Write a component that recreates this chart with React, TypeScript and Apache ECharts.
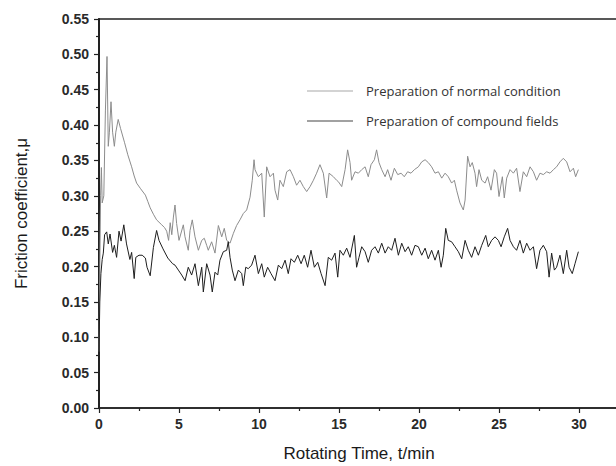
import React, { useEffect, useRef } from "react";
import * as echarts from "echarts";

// Preparation of normal condition: [time (min), friction coefficient]
const normalCondition: [number, number][] = [
  [0, 0.08], [0.05, 0.2], [0.1, 0.3], [0.15, 0.34], [0.2, 0.29], [0.3, 0.3], [0.4, 0.42], [0.5, 0.497],
  [0.58, 0.37], [0.65, 0.39], [0.75, 0.433], [0.85, 0.39], [0.96, 0.37], [1.05, 0.39], [1.2, 0.408],
  [1.35, 0.395], [1.6, 0.375], [1.8, 0.358], [2.04, 0.341], [2.2, 0.328], [2.35, 0.318], [2.6, 0.31],
  [2.9, 0.301], [3.05, 0.292], [3.2, 0.283], [3.4, 0.274], [3.6, 0.266], [3.92, 0.259], [4.1, 0.255],
  [4.23, 0.25], [4.35, 0.237], [4.45, 0.262], [4.55, 0.245], [4.65, 0.27], [4.75, 0.287], [4.85, 0.261],
  [5.0, 0.237], [5.27, 0.259], [5.375, 0.242], [5.58, 0.223], [5.69, 0.251], [5.83, 0.266], [6.0, 0.242],
  [6.21, 0.223], [6.42, 0.237], [6.58, 0.24], [6.73, 0.23], [6.83, 0.223], [7.04, 0.235], [7.25, 0.219],
  [7.46, 0.258], [7.67, 0.242], [7.83, 0.254], [7.98, 0.237], [8.19, 0.233], [8.4, 0.247], [8.6, 0.258],
  [8.81, 0.266], [9.02, 0.275], [9.23, 0.28], [9.44, 0.298], [9.58, 0.322], [9.69, 0.351], [9.75, 0.337],
  [9.85, 0.332], [9.96, 0.327], [10.17, 0.332], [10.33, 0.27], [10.48, 0.341], [10.69, 0.327], [10.9, 0.332],
  [11.0, 0.308], [11.17, 0.294], [11.31, 0.322], [11.52, 0.313], [11.73, 0.334], [11.94, 0.337], [12.15, 0.327],
  [12.35, 0.315], [12.56, 0.322], [12.77, 0.313], [12.98, 0.306], [13.19, 0.313], [13.4, 0.322], [13.6, 0.332],
  [13.81, 0.344], [14.02, 0.332], [14.23, 0.297], [14.38, 0.332], [14.65, 0.327], [14.85, 0.322], [14.96, 0.32],
  [15.17, 0.313], [15.38, 0.337], [15.54, 0.365], [15.69, 0.347], [15.79, 0.322], [16.0, 0.334], [16.21, 0.332],
  [16.42, 0.337], [16.63, 0.341], [16.83, 0.327], [17.0, 0.344], [17.21, 0.351], [17.35, 0.365], [17.5, 0.347],
  [17.67, 0.337], [17.88, 0.327], [18.04, 0.337], [18.25, 0.322], [18.46, 0.339], [18.67, 0.33], [18.88, 0.332],
  [19.08, 0.327], [19.29, 0.334], [19.5, 0.332], [19.71, 0.337], [19.96, 0.341], [20.17, 0.348], [20.38, 0.351],
  [20.58, 0.347], [20.79, 0.341], [21.0, 0.332], [21.21, 0.334], [21.42, 0.325], [21.63, 0.332], [21.83, 0.327],
  [22.04, 0.318], [22.21, 0.322], [22.35, 0.308], [22.56, 0.29], [22.77, 0.28], [22.88, 0.294], [23.04, 0.356],
  [23.19, 0.341], [23.33, 0.347], [23.5, 0.332], [23.6, 0.313], [23.75, 0.337], [23.92, 0.322], [24.13, 0.318],
  [24.29, 0.327], [24.5, 0.308], [24.71, 0.337], [24.85, 0.332], [25.0, 0.299], [25.21, 0.327], [25.33, 0.297],
  [25.48, 0.325], [25.69, 0.337], [25.9, 0.332], [26.1, 0.339], [26.31, 0.306], [26.52, 0.334], [26.73, 0.327],
  [26.94, 0.341], [27.15, 0.334], [27.35, 0.322], [27.56, 0.332], [27.77, 0.33], [27.98, 0.334], [28.19, 0.332],
  [28.4, 0.337], [28.6, 0.341], [28.81, 0.348], [29.02, 0.353], [29.23, 0.348], [29.44, 0.334], [29.65, 0.339],
  [29.79, 0.327], [29.96, 0.337],
];

// Preparation of compound fields: [time (min), friction coefficient]
const compoundFields: [number, number][] = [
  [0, 0.08], [0.05, 0.15], [0.12, 0.19], [0.2, 0.21], [0.27, 0.219], [0.35, 0.245], [0.48, 0.249], [0.58, 0.232],
  [0.69, 0.246], [0.85, 0.22], [0.96, 0.23], [1.1, 0.213], [1.25, 0.25], [1.38, 0.236], [1.55, 0.259],
  [1.72, 0.232], [1.93, 0.21], [2.04, 0.22], [2.2, 0.183], [2.3, 0.213], [2.5, 0.216], [2.7, 0.216],
  [2.9, 0.212], [3.0, 0.199], [3.2, 0.187], [3.4, 0.227], [3.6, 0.251], [3.75, 0.237], [4.0, 0.225],
  [4.3, 0.212], [4.6, 0.204], [4.75, 0.202], [4.96, 0.195], [5.17, 0.188], [5.38, 0.18], [5.58, 0.199],
  [5.79, 0.188], [6.0, 0.204], [6.21, 0.173], [6.42, 0.199], [6.52, 0.164], [6.73, 0.204], [6.94, 0.188],
  [7.08, 0.164], [7.25, 0.192], [7.42, 0.188], [7.56, 0.209], [7.77, 0.221], [7.98, 0.223], [8.08, 0.235],
  [8.19, 0.213], [8.33, 0.195], [8.5, 0.18], [8.71, 0.195], [8.92, 0.19], [9.02, 0.173], [9.17, 0.199],
  [9.33, 0.197], [9.54, 0.202], [9.75, 0.216], [9.96, 0.19], [10.17, 0.204], [10.33, 0.185], [10.54, 0.199],
  [10.75, 0.19], [11.0, 0.18], [11.21, 0.202], [11.42, 0.197], [11.63, 0.209], [11.83, 0.19], [12.0, 0.211],
  [12.21, 0.206], [12.42, 0.216], [12.63, 0.204], [12.83, 0.216], [13.04, 0.199], [13.25, 0.223], [13.46, 0.199],
  [13.67, 0.206], [13.88, 0.19], [14.13, 0.173], [14.33, 0.213], [14.54, 0.209], [14.75, 0.219], [14.92, 0.185],
  [15.06, 0.223], [15.27, 0.216], [15.48, 0.226], [15.69, 0.213], [15.96, 0.244], [16.1, 0.199], [16.25, 0.213],
  [16.42, 0.228], [16.63, 0.221], [16.83, 0.206], [17.04, 0.223], [17.25, 0.228], [17.46, 0.219], [17.67, 0.233],
  [17.88, 0.219], [18.08, 0.228], [18.29, 0.223], [18.5, 0.24], [18.71, 0.216], [18.92, 0.233], [19.13, 0.221],
  [19.33, 0.228], [19.54, 0.216], [19.75, 0.23], [19.96, 0.228], [20.17, 0.216], [20.38, 0.226], [20.58, 0.211],
  [20.79, 0.223], [21.0, 0.209], [21.21, 0.223], [21.38, 0.199], [21.52, 0.216], [21.67, 0.254], [21.83, 0.237],
  [22.04, 0.235], [22.25, 0.228], [22.46, 0.221], [22.67, 0.211], [22.88, 0.237], [23.08, 0.223], [23.29, 0.213],
  [23.5, 0.228], [23.71, 0.216], [23.92, 0.23], [24.17, 0.244], [24.33, 0.228], [24.54, 0.237], [24.75, 0.242],
  [24.96, 0.237], [25.13, 0.228], [25.33, 0.242], [25.54, 0.254], [25.69, 0.237], [25.9, 0.228], [26.1, 0.223],
  [26.31, 0.237], [26.52, 0.219], [26.73, 0.233], [26.94, 0.223], [27.15, 0.228], [27.35, 0.197], [27.56, 0.223],
  [27.77, 0.23], [27.98, 0.221], [28.13, 0.185], [28.29, 0.219], [28.46, 0.195], [28.6, 0.199], [28.81, 0.216],
  [29.02, 0.19], [29.23, 0.223], [29.38, 0.199], [29.58, 0.19], [29.75, 0.204], [29.96, 0.221],
];

const seriesNames = ["Preparation of normal condition", "Preparation of compound fields"];
const seriesColors = ["#8c8c8c", "#1e1e1e"];
const xTitle = "Rotating Time, t/min";
const yTitle = "Friction coefficient,\u03bc";

export default function App() {
  const ref = useRef<HTMLDivElement>(null);
  useEffect(() => {
    if (!ref.current) return;
    const chart = echarts.init(ref.current, null, { renderer: "svg" });
    const axisFont = "Liberation Sans, Arial, sans-serif";
    chart.setOption({
      animation: false,
      backgroundColor: "#ffffff",
      grid: {
        left: 99,
        top: 19,
        bottom: 58,
        right: -43,
        outerBoundsMode: "none",
        containLabel: false,
        show: true,
        borderColor: "#222",
        borderWidth: 1.5,
      },
      xAxis: {
        type: "value",
        min: 0,
        max: 35,
        interval: 5,
        axisLine: { show: true, onZero: false, lineStyle: { color: "#222", width: 1.5 } },
        axisTick: { show: true, inside: false, length: 5, lineStyle: { color: "#222", width: 1.2 } },
        minorTick: { show: true, splitNumber: 2, length: 3, lineStyle: { color: "#222", width: 1.2 } },
        splitLine: { show: false },
        axisLabel: {
          margin: 9,
          fontFamily: axisFont,
          fontSize: 14,
          fontWeight: "bold",
          color: "#2a2a2a",
          showMaxLabel: false,
          formatter: (v: number) => (v <= 30 ? String(v) : ""),
        },
      },
      yAxis: {
        type: "value",
        min: 0,
        max: 0.55,
        interval: 0.05,
        name: yTitle,
        nameLocation: "middle",
        nameGap: 69,
        nameTextStyle: { fontFamily: axisFont, fontSize: 17, color: "#1a1a1a" },
        axisLine: { show: true, onZero: false, lineStyle: { color: "#222", width: 2 } },
        axisTick: { show: true, inside: false, length: 5, lineStyle: { color: "#222", width: 1.2 } },
        minorTick: { show: true, splitNumber: 2, length: 3, lineStyle: { color: "#222", width: 1.2 } },
        splitLine: { show: false },
        axisLabel: {
          margin: 10,
          fontFamily: axisFont,
          fontSize: 14,
          fontWeight: "bold",
          color: "#2a2a2a",
          formatter: (v: number) => v.toFixed(2),
        },
      },
      series: [
        {
          name: seriesNames[0],
          type: "line",
          data: normalCondition,
          symbol: "none",
          lineStyle: { color: seriesColors[0], width: 1 },
          z: 2,
        },
        {
          name: seriesNames[1],
          type: "line",
          data: compoundFields,
          symbol: "none",
          lineStyle: { color: seriesColors[1], width: 1 },
          z: 3,
        },
      ],
      graphic: [
        {
          type: "text",
          x: 359,
          y: 453,
          style: { text: xTitle, fontFamily: axisFont, fontSize: 17, fill: "#1a1a1a", align: "center", verticalAlign: "middle" },
        },
        { type: "line", shape: { x1: 307, y1: 91, x2: 353, y2: 91 }, style: { stroke: "#a8a8a8", lineWidth: 1.2 } },
        {
          type: "text",
          x: 366,
          y: 91,
          style: { text: seriesNames[0], fontFamily: "Open Sans, sans-serif", fontSize: 13, fill: "#333", verticalAlign: "middle" },
        },
        { type: "line", shape: { x1: 307, y1: 121, x2: 353, y2: 121 }, style: { stroke: "#444", lineWidth: 1.2 } },
        {
          type: "text",
          x: 366,
          y: 121,
          style: { text: seriesNames[1], fontFamily: "Open Sans, sans-serif", fontSize: 13, fill: "#333", verticalAlign: "middle" },
        },
      ],
    });
    return () => chart.dispose();
  }, []);
  return (
    <div
      ref={ref}
      style={{ position: "fixed", left: 0, top: 0, width: 616, height: 466, background: "#fff" }}
    />
  );
}
